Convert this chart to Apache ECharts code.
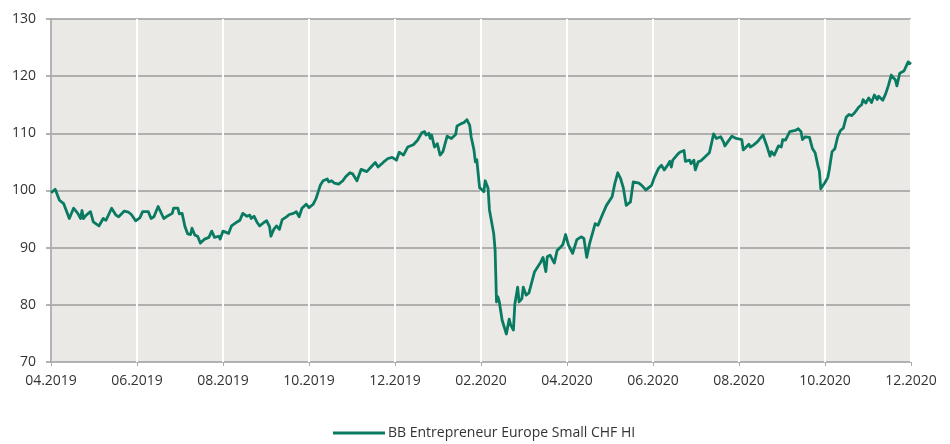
<!DOCTYPE html>
<html>
<head>
<meta charset="utf-8">
<script src="https://cdn.jsdelivr.net/npm/echarts@6/dist/echarts.min.js"></script>
<style>
html,body{margin:0;padding:0;background:#fff;}
#chart{width:950px;height:444px;}
</style>
</head>
<body>
<div id="chart"></div>
<script>
// x tick labels (every two months, starting 01.04.2019)
var xTickLabels = ['04.2019','06.2019','08.2019','10.2019','12.2019','02.2020','04.2020','06.2020','08.2020','10.2020','12.2020'];
var seriesName = 'BB Entrepreneur Europe Small CHF HI';
// days since 01.04.2019
var dayOffsets = [0,3,6,9,13,16,19,21,22,23,25,26,28,30,34,37,39,43,46,48,52,55,57,58,60,63,65,69,71,73,76,77,80,83,86,87,90,91,93,95,97,99,100,102,104,106,109,112,114,116,119,120,122,126,128,132,134,136,139,141,142,144,146,148,151,153,155,156,158,160,162,164,167,169,172,174,176,178,181,183,186,188,191,193,196,197,199,201,204,207,209,212,214,217,220,224,227,230,232,236,239,242,245,247,250,253,257,258,260,263,265,266,268,269,270,272,274,276,278,281,284,287,288,291,293,294,295,297,298,300,301,302,304,305,307,308,310,311,314,315,316,317,318,320,321,323,325,326,328,329,331,332,334,335,337,339,340,343,347,349,351,352,354,357,359,361,363,365,367,370,373,376,378,380,382,386,388,391,392,394,395,398,400,402,404,406,408,411,412,413,417,419,422,424,426,428,431,433,435,437,439,440,441,444,446,449,450,453,454,456,457,459,461,464,467,469,470,472,475,477,478,480,483,486,490,491,492,495,496,498,501,503,505,508,510,511,513,516,518,519,521,524,525,528,530,532,533,535,538,540,542,544,545,546,549,551,552,554,556,558,560,562,564,566,568,570,573,575,576,578,579,580,582,584,586,587,590,592,594,596,599,600,602,605,606,608,609,610];
var indexValues = [99.6,100.2,98.3,97.7,95.1,96.9,96.0,95.1,96.5,95.1,95.7,95.4,96.3,94.5,93.8,95.1,94.8,96.9,95.7,95.4,96.4,96.2,95.8,96.1,94.7,95.2,96.3,96.3,95.1,95.4,97.2,97.2,95.1,95.6,96.0,96.9,96.9,95.9,96.0,93.7,92.4,92.3,93.4,92.2,92.0,90.8,91.5,91.8,92.9,91.8,92.0,91.5,92.9,92.5,93.8,94.5,94.8,96.0,95.5,95.7,95.1,95.5,94.5,93.8,94.4,94.7,93.7,92.0,93.2,93.8,93.2,94.9,95.4,95.8,96.0,96.3,95.4,96.9,97.6,97.0,97.6,98.6,100.9,101.7,102.0,101.5,101.7,101.3,101.1,101.7,102.4,103.1,102.9,101.7,103.7,103.3,104.1,104.9,104.1,105.0,105.6,105.8,105.3,106.7,106.2,107.6,108.0,107.8,108.8,110.1,110.3,109.7,110.0,109.1,109.7,107.6,108.2,106.2,106.8,109.5,109.1,109.8,111.3,111.7,111.9,111.7,112.4,111.4,109.4,107.1,105.0,105.4,100.5,100.2,99.8,101.7,100.4,96.6,92.5,89.6,80.5,81.4,80.5,77.3,77.0,74.9,77.5,76.5,75.6,80.1,83.1,80.5,81.1,83.1,81.7,82.1,81.9,85.8,87.3,88.3,85.8,88.4,88.7,87.3,89.5,90.0,90.5,92.3,90.5,89.0,91.4,91.9,91.6,88.3,90.7,94.2,93.9,95.7,96.0,97.4,97.2,98.9,101.3,103.1,102.1,100.4,97.4,98.0,98.3,101.5,101.3,100.9,100.1,100.5,100.9,102.3,103.9,104.4,103.6,104.3,105.1,104.1,105.3,106.2,106.7,107.0,105.1,105.3,104.7,105.3,103.6,105.0,105.2,105.9,106.6,108.8,109.9,109.1,109.4,108.5,107.8,108.5,109.5,109.1,108.9,107.1,106.8,108.1,107.6,107.9,108.5,109.1,109.7,107.6,106.0,106.8,106.2,107.8,107.6,108.9,108.8,110.3,110.1,110.5,110.8,110.3,108.9,109.4,109.3,107.4,106.6,104.3,103.4,100.3,101.4,102.3,103.6,106.8,107.3,109.4,110.5,110.9,112.8,113.3,113.1,113.6,114.6,115.0,115.9,115.3,115.5,116.2,115.4,116.7,115.9,116.5,115.8,116.9,118.4,120.2,119.3,118.3,120.5,120.9,121.2,122.5,122.2,122.1];

var lineData = dayOffsets.map(function (d, i) { return [d, indexValues[i]]; });

var chart = echarts.init(document.getElementById('chart'), null, {renderer: 'canvas'});
var font = '"Open Sans", "Noto Sans", sans-serif';
chart.setOption({
  animation: false,
  textStyle: {fontFamily: font},
  grid: {
    left: 51, right: 39, top: 19, bottom: 82,
    show: true, backgroundColor: '#ebe9e5', borderWidth: 0
  },
  legend: {
    left: 333, top: 426, padding: 0,
    itemWidth: 52, itemHeight: 3, itemGap: 10,
    textStyle: {fontFamily: font, fontSize: 14, color: '#333', padding: [0, 0, 0, -2]},
    data: [{name: seriesName, icon: 'rect', itemStyle: {color: '#097b63'}}]
  },
  xAxis: {
    type: 'value', min: 0, max: 610, interval: 61,
    axisLine: {show: false},
    axisTick: {show: true, length: 4, lineStyle: {color: '#aaa', width: 1}},
    splitLine: {show: true, lineStyle: {color: '#ffffff', width: 2}},
    axisLabel: {
      margin: 12, fontSize: 14, color: '#333', fontFamily: font,
      showMinLabel: true, showMaxLabel: true,
      formatter: function (v) { return xTickLabels[Math.round(v / 61)]; }
    }
  },
  yAxis: {
    type: 'value', min: 70, max: 130, interval: 10,
    axisLine: {show: true, lineStyle: {color: '#9b9b9b', width: 1.5}},
    axisTick: {show: true, length: 5, lineStyle: {color: '#9b9b9b', width: 1.5}},
    splitLine: {show: true, lineStyle: {color: '#9b9b9b', width: 1.5}},
    axisLabel: {margin: 15, fontSize: 14, color: '#333', fontFamily: font}
  },
  series: [{
    name: seriesName,
    type: 'line',
    data: lineData,
    symbol: 'none',
    lineStyle: {color: '#097b63', width: 2.8, join: 'round'},
    itemStyle: {color: '#097b63'}
  }]
});
</script>
</body>
</html>
